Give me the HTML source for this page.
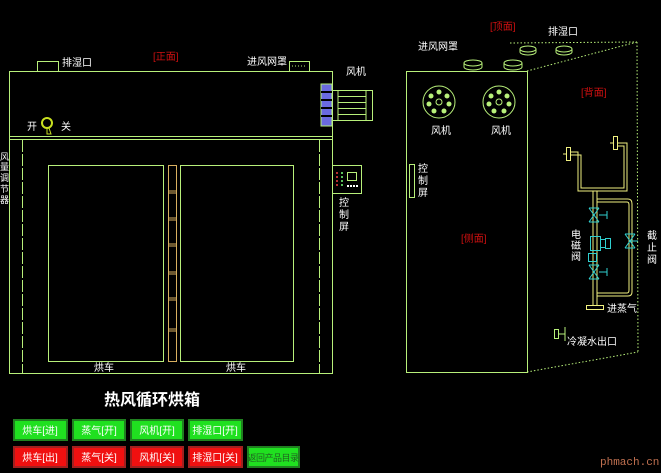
<!DOCTYPE html>
<html><head><meta charset="utf-8"><style>
body{margin:0;background:#000;width:661px;height:473px;overflow:hidden}
svg{display:block}
text{font-family:"Liberation Sans","Noto Sans CJK SC",sans-serif;font-size:10px;fill:#fff}
.r{fill:#d01010}
</style></head><body>
<svg width="661" height="473" viewBox="0 0 661 473">
<g fill="none" stroke="#b8f07a" stroke-width="1">
<rect x="9.5" y="71.5" width="323" height="302"/>
<line x1="9.5" y1="136.5" x2="332.5" y2="136.5"/>
<line x1="9.5" y1="139.5" x2="332.5" y2="139.5"/>
<line x1="22.5" y1="140" x2="22.5" y2="373" stroke-dasharray="12,2"/>
<line x1="319.5" y1="140" x2="319.5" y2="373" stroke-dasharray="12,2"/>
<rect x="37.5" y="61.5" width="21" height="10"/>
<rect x="289.5" y="61.5" width="20" height="10"/>
<line x1="292" y1="66" x2="307" y2="66" stroke-dasharray="1,2"/>
<rect x="48.5" y="165.5" width="115" height="196"/>
<rect x="180.5" y="165.5" width="113" height="196"/>
<rect x="332.5" y="90.5" width="40" height="30"/>
<line x1="338" y1="91" x2="338" y2="120"/><line x1="366" y1="91" x2="366" y2="120"/>
<line x1="338" y1="96.5" x2="366" y2="96.5"/><line x1="338" y1="102.5" x2="366" y2="102.5"/><line x1="338" y1="108.5" x2="366" y2="108.5"/><line x1="338" y1="114.5" x2="366" y2="114.5"/>
<rect x="332.5" y="165.5" width="29" height="28"/>
<rect x="347.5" y="172.5" width="9" height="8"/>
</g>
<rect x="321" y="84" width="11" height="42" fill="#6a6adf" stroke="#b8f07a"/>
<g stroke="#000" stroke-width="2"><line x1="321" y1="92" x2="332" y2="92"/><line x1="321" y1="100" x2="332" y2="100"/><line x1="321" y1="108" x2="332" y2="108"/><line x1="321" y1="116" x2="332" y2="116"/></g>
<g fill="#f04040"><circle cx="337" cy="173" r="1"/><circle cx="337" cy="177" r="1"/><circle cx="337" cy="181" r="1"/><circle cx="337" cy="185" r="1"/></g>
<g fill="#7f7"><circle cx="342" cy="173" r="1"/><circle cx="342" cy="177" r="1"/><circle cx="342" cy="181" r="1"/><circle cx="342" cy="185" r="1"/></g>
<g fill="#fff"><rect x="347" y="185" width="2" height="2"/><rect x="350" y="185" width="2" height="2"/><rect x="353" y="185" width="2" height="2"/><rect x="356" y="185" width="2" height="2"/></g>
<g fill="none" stroke="#d8b060"><rect x="168.5" y="165.5" width="8" height="196"/>
<line x1="168" y1="191" x2="177" y2="191"/><line x1="168" y1="193" x2="177" y2="193"/>
<line x1="168" y1="218" x2="177" y2="218"/><line x1="168" y1="220" x2="177" y2="220"/>
<line x1="168" y1="244" x2="177" y2="244"/><line x1="168" y1="246" x2="177" y2="246"/>
<line x1="168" y1="272" x2="177" y2="272"/><line x1="168" y1="274" x2="177" y2="274"/>
<line x1="168" y1="298" x2="177" y2="298"/><line x1="168" y1="300" x2="177" y2="300"/>
<line x1="168" y1="329" x2="177" y2="329"/><line x1="168" y1="331" x2="177" y2="331"/></g>
<circle cx="47" cy="123" r="5" fill="none" stroke="#c8e020" stroke-width="2"/>
<path d="M47 128 L47 134 L51 134 L49 128" fill="none" stroke="#c8e020"/>
<text x="27" y="130">开</text><text x="61" y="130">关</text>
<text x="62" y="66">排湿口</text>
<text x="247" y="65">进风网罩</text>
<text x="346" y="75">风机</text>
<text x="153" y="60" class="r">[正面]</text>
<text x="94" y="371">烘车</text><text x="226" y="371">烘车</text>
<text x="0" y="160" style="font-size:9px">风</text><text x="0" y="170" style="font-size:9px">量</text><text x="0" y="181" style="font-size:9px">调</text><text x="0" y="192" style="font-size:9px">节</text><text x="0" y="203" style="font-size:9px">器</text>
<text x="339" y="206">控</text><text x="339" y="218">制</text><text x="339" y="230">屏</text>

<g fill="none" stroke="#b8f07a">
<rect x="406.5" y="71.5" width="121" height="301"/>
<rect x="409.5" y="164.5" width="5" height="33"/>
<g stroke-dasharray="1.5,2"><line x1="527" y1="71" x2="637" y2="42"/><line x1="510" y1="43" x2="637" y2="42"/><line x1="637" y1="42" x2="638" y2="352"/><line x1="527" y1="372" x2="638" y2="352"/></g>
<ellipse cx="473" cy="63" rx="9" ry="3"/><path d="M464 63 v4 a9 3 0 0 0 18 0 v-4"/>
<ellipse cx="513" cy="63" rx="9" ry="3"/><path d="M504 63 v4 a9 3 0 0 0 18 0 v-4"/>
<ellipse cx="528" cy="49" rx="8" ry="3"/><path d="M520 49 v3 a8 3 0 0 0 16 0 v-3"/>
<ellipse cx="564" cy="49" rx="8" ry="3"/><path d="M556 49 v3 a8 3 0 0 0 16 0 v-3"/>
<circle cx="439" cy="102" r="16"/><circle cx="499" cy="102" r="16"/>
<circle cx="439" cy="102" r="3"/><circle cx="499" cy="102" r="3"/>
<rect x="554.5" y="329.5" width="4" height="9"/><line x1="559" y1="334" x2="565" y2="334"/><line x1="565" y1="327" x2="565" y2="341"/>
</g>
<g fill="#b8f07a">
<circle cx="439" cy="92" r="2.5"/><circle cx="447" cy="96" r="2.5"/><circle cx="449" cy="104" r="2.5"/><circle cx="444" cy="111" r="2.5"/><circle cx="434" cy="111" r="2.5"/><circle cx="429" cy="104" r="2.5"/><circle cx="431" cy="96" r="2.5"/>
<circle cx="499" cy="92" r="2.5"/><circle cx="507" cy="96" r="2.5"/><circle cx="509" cy="104" r="2.5"/><circle cx="504" cy="111" r="2.5"/><circle cx="494" cy="111" r="2.5"/><circle cx="489" cy="104" r="2.5"/><circle cx="491" cy="96" r="2.5"/>
</g>
<g fill="none" stroke="#f0f080" stroke-width="1">
<path d="M570 152 H578 V191 H627 V143 H618"/>
<path d="M570 155 H581 V188 H624 V146 H618"/>
<path d="M593 191 V306 M597 191 V306"/>
<path d="M597 199 H628 Q632 199 632 204 V292 Q632 296 628 296 H597"/>
<path d="M597 202 H627 Q629 202 629 205 V290 Q629 293 627 293 H597"/>
<rect x="586.5" y="305.5" width="17" height="4"/>
<rect x="566.5" y="147.5" width="4" height="13"/><line x1="563" y1="154" x2="567" y2="154"/>
<rect x="613.5" y="136.5" width="4" height="13"/><line x1="610" y1="143" x2="614" y2="143"/>
</g>
<g fill="none" stroke="#30d0d0">
<path d="M589 208 L599 222 M599 208 L589 222 M589 208 H599 M589 222 H599"/><line x1="599" y1="215" x2="607" y2="215"/><line x1="607" y1="211" x2="607" y2="219"/>
<path d="M589 265 L599 279 M599 265 L589 279 M589 265 H599 M589 279 H599"/><line x1="599" y1="272" x2="607" y2="272"/><line x1="607" y1="268" x2="607" y2="276"/>
<rect x="590.5" y="236.5" width="10" height="14"/><rect x="600.5" y="239.5" width="5" height="8"/><rect x="605.5" y="238.5" width="5" height="10"/>
<rect x="588.5" y="253.5" width="8" height="8"/>
<path d="M625 234 L635 248 M635 234 L625 248 M625 234 H635 M625 248 H635"/><line x1="630" y1="241" x2="638" y2="241"/>
</g>
<text x="418" y="50">进风网罩</text>
<text x="548" y="35">排湿口</text>
<text x="490" y="30" class="r">[顶面]</text>
<text x="581" y="96" class="r">[背面]</text>
<text x="461" y="242" class="r">[侧面]</text>
<text x="431" y="134">风机</text><text x="491" y="134">风机</text>
<text x="418" y="172">控</text><text x="418" y="184">制</text><text x="418" y="196">屏</text>
<text x="571" y="238">电</text><text x="571" y="249">磁</text><text x="571" y="260">阀</text>
<text x="647" y="239">截</text><text x="647" y="251">止</text><text x="647" y="263">阀</text>
<text x="607" y="312">进蒸气</text>
<text x="567" y="345">冷凝水出口</text>

<text x="104" y="405" style="font-size:16px;font-weight:bold">热风循环烘箱</text>
<g stroke="#208020" stroke-width="2"><rect x="14" y="420" width="53" height="20" fill="#20e020"/><rect x="73" y="420" width="52" height="20" fill="#20e020"/><rect x="131" y="420" width="52" height="20" fill="#20e020"/><rect x="189" y="420" width="53" height="20" fill="#20e020"/><rect x="248" y="447" width="51" height="20" fill="#20e020"/></g>
<g stroke="#a02020" stroke-width="2"><rect x="14" y="447" width="53" height="20" fill="#f01010"/><rect x="73" y="447" width="52" height="20" fill="#f01010"/><rect x="131" y="447" width="52" height="20" fill="#f01010"/><rect x="189" y="447" width="53" height="20" fill="#f01010"/></g>
<g style="fill:#208020" text-anchor="middle"><text x="40" y="434">烘车[进]</text><text x="99" y="434">蒸气[开]</text><text x="157" y="434">风机[开]</text><text x="215" y="434">排湿口[开]</text></g>
<g style="fill:#a01010" text-anchor="middle"><text x="40" y="461">烘车[出]</text><text x="99" y="461">蒸气[关]</text><text x="157" y="461">风机[关]</text><text x="215" y="461">排湿口[关]</text></g>
<text x="273" y="461" text-anchor="middle" style="fill:#206020;font-size:9px;letter-spacing:-0.5px">返回产品目录</text>
<text x="600" y="465" style="font-family:'Liberation Mono',monospace;font-size:11px;fill:#c07050">phmach.cn</text>
</svg>
</body></html>
